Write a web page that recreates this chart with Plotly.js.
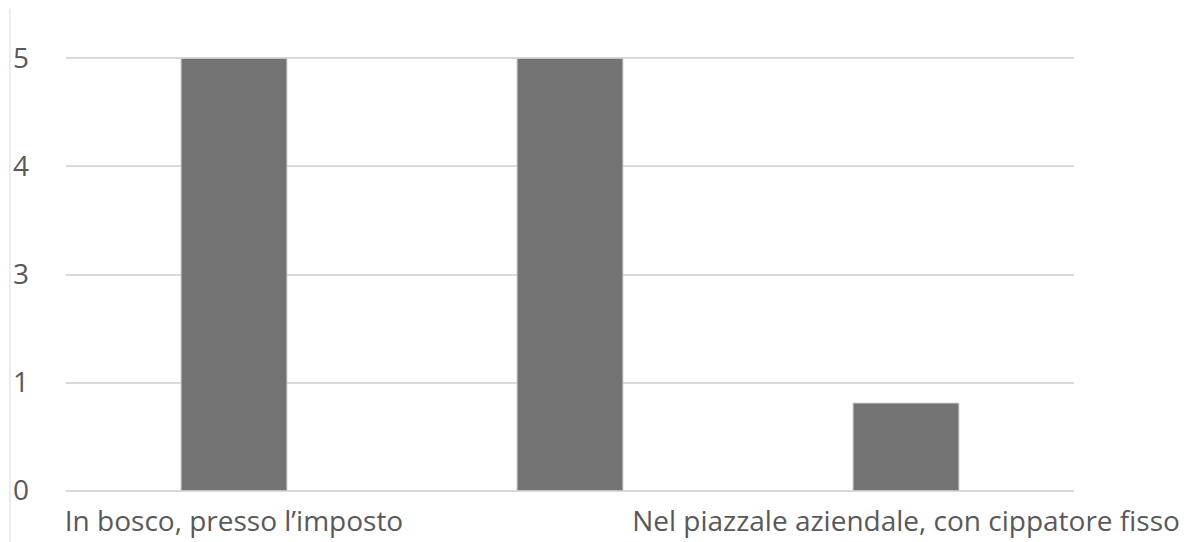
<!DOCTYPE html>
<html>
<head>
<meta charset="utf-8">
<script src="https://cdn.plot.ly/plotly-3.0.1.min.js"></script>
<style>html,body{margin:0;padding:0;background:#fff;}#chart{width:1187px;height:542px;}</style>
</head>
<body>
<div id="chart"></div>
<script>
// Category positions and labels (the middle category label is not shown in the reference)
const categories = ['In bosco, presso l’imposto', '', 'Nel piazzale aziendale, con cippatore fisso'];
const positions = [0, 1, 2];
// Bar heights expressed in grid-step units as drawn (top gridline labelled "5")
const values = [4, 4, 0.81];
// Y-axis tick labels as printed in the reference
const yTickVals = [0, 1, 2, 3, 4];
const yTickText = ['0', '1', '3', '4', '5'];

const trace = {
  type: 'bar',
  x: positions,
  y: values,
  marker: {color: '#737373', line: {color: '#c8c8c8', width: 1}},
  hoverinfo: 'none'
};

const layout = {
  width: 1187, height: 542,
  margin: {l: 66, r: 113, t: 53, b: 46},
  paper_bgcolor: '#ffffff', plot_bgcolor: '#ffffff',
  showlegend: false,
  bargap: 0.685,
  font: {family: 'Open Sans, sans-serif', color: '#595959', size: 28},
  xaxis: {
    range: [-0.5, 2.5],
    tickmode: 'array', tickvals: positions, ticktext: categories,
    showgrid: false, zeroline: false, showline: false, ticks: '',
    tickfont: {size: 28, color: '#595959'},
    ticklabelstandoff: 6
  },
  yaxis: {
    range: [-0.05, 4.05],
    tickmode: 'array', tickvals: yTickVals, ticktext: yTickText,
    showgrid: true, gridcolor: '#d9d9d9', gridwidth: 2,
    zeroline: false, showline: false, ticks: '',
    tickfont: {size: 28, color: '#595959'},
    ticklabelstandoff: 36
  },
  shapes: [{
    type: 'line', xref: 'paper', yref: 'paper',
    x0: -0.0556, x1: -0.0556, y0: 1.1, y1: -0.12,
    line: {color: '#d9d9d9', width: 1}
  }]
};

Plotly.newPlot('chart', [trace], layout, {displayModeBar: false, staticPlot: true});
</script>
</body>
</html>
